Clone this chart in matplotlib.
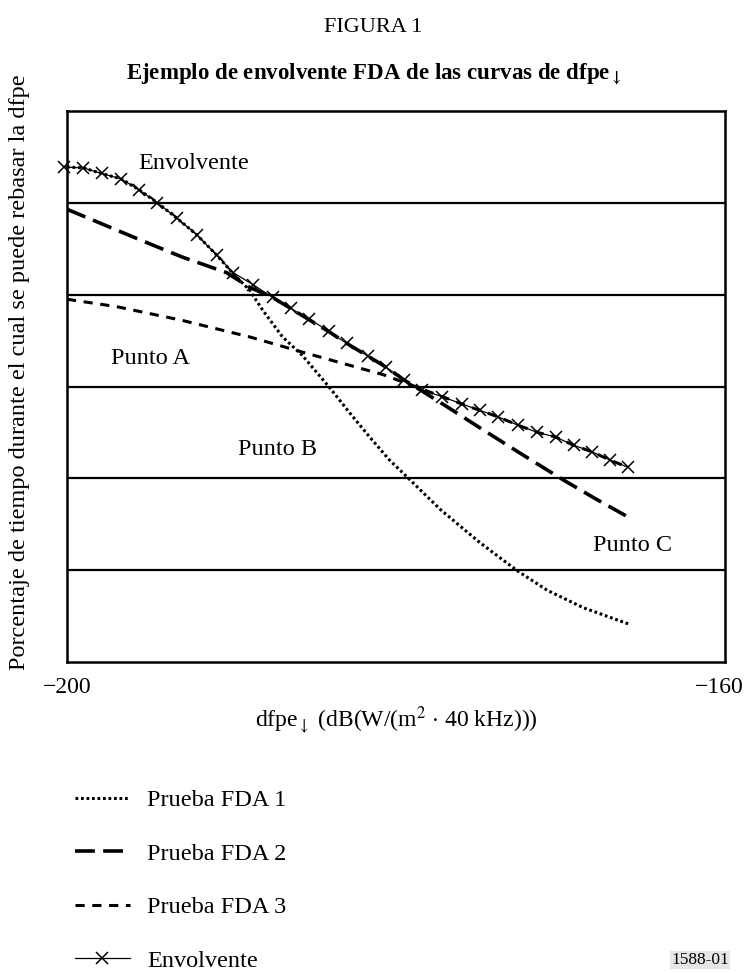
import matplotlib
matplotlib.use("Agg")
import matplotlib.pyplot as plt
import matplotlib.transforms as mtransforms
from matplotlib.lines import Line2D

plt.rcParams['font.family'] = ['Liberation Serif', 'DejaVu Serif']
plt.rcParams['mathtext.fontset'] = 'stix'

# dfpe (dB) and vertical position (in grid bands, 0 = bottom, 6 = top)
fda1_x = [-200.0, -199.0, -197.9, -196.7, -195.6, -194.5, -193.3, -192.1, -190.9,
          -189.8, -188.9, -188.1, -186.9, -185.7, -184.0, -182.8, -181.6, -180.4,
          -179.3, -177.3, -174.9, -172.6, -170.8, -168.6, -165.8]
fda1_y = [5.39, 5.38, 5.32, 5.26, 5.14, 5.00, 4.83, 4.65, 4.43,
          4.21, 4.05, 3.83, 3.54, 3.34, 2.98, 2.71, 2.45, 2.20,
          2.01, 1.66, 1.30, 0.99, 0.78, 0.59, 0.41]

fda2_x = [-200.0, -198.0, -195.6, -193.0, -190.3, -188.9, -187.5, -186.4, -185.4,
          -184.1, -183.0, -181.7, -180.6, -179.5, -178.5, -176.9, -174.9, -172.6,
          -169.9, -167.8, -165.9]
fda2_y = [4.93, 4.78, 4.60, 4.41, 4.24, 4.08, 3.97, 3.85, 3.74,
          3.60, 3.47, 3.33, 3.21, 3.07, 2.96, 2.78, 2.55, 2.29,
          1.99, 1.77, 1.58]

fda3_x = [-200.0, -197.0, -193.0, -188.9, -185.8, -182.8, -180.8, -178.7, -177.2,
          -176.0, -174.9, -173.8, -172.6, -171.4, -170.3, -169.2, -168.1, -167.0,
          -165.9]
fda3_y = [3.95, 3.87, 3.72, 3.54, 3.38, 3.23, 3.13, 2.99, 2.89,
          2.81, 2.74, 2.67, 2.58, 2.50, 2.45, 2.36, 2.29, 2.20,
          2.12]

env_x = [-200.2, -199.0, -197.9, -196.7, -195.6, -194.5, -193.3, -192.1, -190.9,
         -189.9, -188.7, -187.5, -186.4, -185.3, -184.1, -183.0, -181.7, -180.6,
         -179.5, -178.4, -177.2, -176.0, -174.9, -173.8, -172.6, -171.4, -170.3,
         -169.2, -168.1, -167.0, -165.9]
env_y = [5.39, 5.38, 5.32, 5.26, 5.14, 5.00, 4.83, 4.65, 4.43,
         4.24, 4.11, 3.97, 3.85, 3.74, 3.60, 3.47, 3.33, 3.21,
         3.07, 2.96, 2.89, 2.81, 2.74, 2.67, 2.58, 2.50, 2.45,
         2.36, 2.29, 2.20, 2.12]

grid_levels = [1, 2, 3, 4, 5]
x_ticks = [-200, -160]
x_tick_labels = ['\u2212200', '\u2212160']
legend_labels = ['Prueba FDA 1', 'Prueba FDA 2', 'Prueba FDA 3', 'Envolvente']

FS = 17.5

fig = plt.figure(figsize=(7.47, 9.73), dpi=100)
ax = fig.add_axes([67 / 747, 1 - 662 / 973, (725 - 67) / 747, (662 - 111) / 973])
ax.set_xlim(-200, -160)
ax.set_ylim(0, 6)

for lev in grid_levels:
    ax.axhline(lev, color='black', lw=1.6, zorder=1)

style1 = dict(color='black', lw=2.2, dashes=(0.9, 0.9))
style2 = dict(color='black', lw=2.6, dashes=(5.5, 2.3))
style3 = dict(color='black', lw=2.2, dashes=(3.0, 2.5))
style_env = dict(color='black', lw=0.9, marker='x', markersize=9, markeredgewidth=1.1)

ax.plot(fda1_x, fda1_y, **style1)
ax.plot(fda2_x, fda2_y, **style2)
ax.plot(fda3_x, fda3_y, **style3)
ax.plot(env_x, env_y, clip_on=False, **style_env)

ax.text(-192.3, 5.43, 'Envolvente', fontsize=FS, ha='center', va='center')
ax.text(-194.95, 3.31, 'Punto A', fontsize=FS, ha='center', va='center')
ax.text(-187.2, 2.31, 'Punto B', fontsize=FS, ha='center', va='center')
ax.text(-165.6, 1.27, 'Punto C', fontsize=FS, ha='center', va='center')

ax.set_xticks(x_ticks)
ax.set_xticklabels(x_tick_labels, fontsize=17)
ax.set_yticks([])
ax.tick_params(axis='x', length=0, pad=11)
# nudge the right tick label inward so it stays inside the figure
lbl = ax.get_xticklabels()[1]
lbl.set_transform(lbl.get_transform() +
                  mtransforms.ScaledTranslation(-4 / 72, 0, fig.dpi_scale_trans))
for s in ax.spines.values():
    s.set_linewidth(1.8)

fig.text(396 / 747, 1 - 720 / 973,
         r'dfpe$_{\downarrow}$ (dB(W/(m$^2$ $\cdot$ 40 kHz)))',
         fontsize=17, ha='center', va='center')
fig.text(20 / 747, 1 - 372 / 973,
         'Porcentaje de tiempo durante el cual se puede rebasar la dfpe',
         fontsize=FS, rotation=90, ha='center', va='center')

fig.text(0.5, 1 - 27 / 973, 'FIGURA 1', fontsize=16, ha='center', va='center')
fig.text(0.5, 1 - 74 / 973,
         r'Ejemplo de envolvente FDA de las curvas de dfpe$_{\mathbf{\downarrow}}$',
         fontsize=16.5, fontweight='bold', ha='center', va='center')

handles = [Line2D([], [], **style1), Line2D([], [], **style2),
           Line2D([], [], **style3), Line2D([], [], **style_env)]
fig.legend(handles, legend_labels, loc='upper left',
           bbox_to_anchor=(75 / 747, 1 - 789 / 973), frameon=False,
           fontsize=FS, handlelength=2.26, handletextpad=0.7, labelspacing=1.3,
           borderpad=0, borderaxespad=0)

fig.text(700 / 747, 1 - 960 / 973, '1588-01', fontsize=12.5, ha='center', va='center',
         bbox=dict(facecolor='#e6e6e6', edgecolor='none', pad=1))

fig.savefig('out.png', dpi=100)
